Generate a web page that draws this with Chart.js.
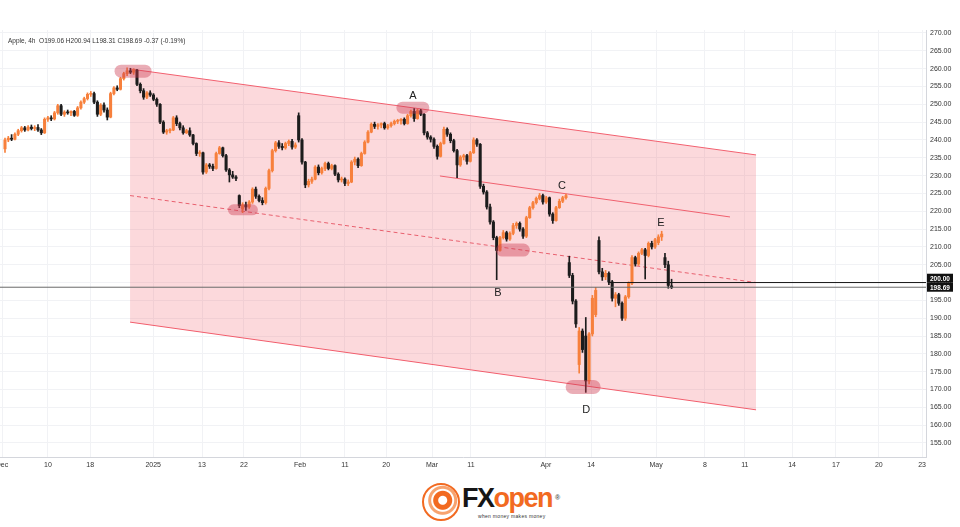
<!DOCTYPE html>
<html>
<head>
<meta charset="utf-8">
<title>Apple 4h</title>
<script src="https://cdn.jsdelivr.net/npm/chart.js@4.4.1/dist/chart.umd.min.js"></script>
<style>
  html, body { margin: 0; padding: 0; background: #fff; }
  body { width: 960px; height: 527px; position: relative; overflow: hidden; font-family: "Liberation Sans", Arial, sans-serif; }
  #wrap { position: absolute; left: 0; top: 30px; width: 960px; height: 448px; }
  #legend { position: absolute; left: 8px; top: 37px; font-size: 6.5px; color: #333; white-space: pre; }
  #logo-icon { position: absolute; left: 422px; top: 483px; width: 34px; height: 34px; border: 2px solid #f26a21; border-radius: 50%;
    background: radial-gradient(circle at 55% 45%, #fff 0 4px, #f26a21 5px 9px, #fff 10px 11px, #f7a36f 12px 14px, #fff 15px); }
  #brand { position: absolute; left: 462px; top: 483px; font-size: 27px; font-weight: 900; letter-spacing: -1.5px; line-height: 30px; }
  #brand .fx { color: #161616; }
  #brand .op { color: #f26a21; }
  #brand sup { font-size: 7px; color: #555; letter-spacing: 0; vertical-align: top; position: relative; top: 0; left: 3px; }
  #tag { position: absolute; left: 478px; top: 513px; font-size: 5px; color: #333; letter-spacing: 0.3px; }
</style>
</head>
<body>
<div id="wrap"><canvas id="chart" width="960" height="448"></canvas></div>
<div id="legend">Apple, 4h  O199.06 H200.94 L198.31 C198.69 -0.37 (-0.19%)</div>
<div id="logo-icon"></div>
<div id="brand"><span class="fx">FX</span><span class="op">open</span><sup>®</sup></div>
<div id="tag">when money   makes money</div>
<script>
// candles, one per 4h bar (index = bar number)
const opens = [237.5,240.0,240.5,240.2,241.6,242.6,243.4,242.8,243.6,243.2,243.5,242.8,242.0,245.8,246.2,245.9,247.6,249.6,247.2,247.8,
  247.6,248.0,246.9,249.0,250.6,251.6,252.8,253.0,250.6,247.2,249.8,248.4,246.4,253.0,254.6,254.2,257.2,258.6,259.4,259.0,
  259.6,255.6,253.8,252.0,253.2,252.6,251.4,250.0,245.0,242.2,242.6,242.8,246.2,244.6,243.4,242.0,242.6,241.4,239.0,236.2,
  236.4,231.0,233.0,232.6,232.0,236.2,237.8,235.6,231.6,230.2,229.6,224.4,220.6,221.8,221.2,222.6,226.2,224.2,223.0,222.4,
  226.4,231.4,237.0,239.2,238.2,237.8,239.0,239.6,238.0,246.8,240.0,233.8,227.4,228.4,229.0,232.4,230.8,232.0,233.4,232.0,
  232.8,230.4,228.8,229.0,227.8,228.2,233.8,234.6,232.8,236.2,239.4,242.2,244.4,243.8,244.2,244.6,243.4,244.0,244.6,245.2,
  245.4,245.8,244.6,246.8,248.0,246.0,248.2,247.2,242.0,240.8,240.2,238.2,235.4,239.0,243.0,241.6,239.8,237.0,233.0,235.2,
  235.6,234.0,236.4,240.0,238.8,227.0,225.4,221.2,217.0,212.6,209.0,212.6,214.0,212.2,213.8,216.0,216.6,215.0,213.0,218.2,
  221.0,222.4,223.6,224.4,222.6,223.8,219.2,217.4,221.0,222.8,223.8,205.6,202.0,194.8,177.0,186.4,185.0,172.4,185.6,191.0,
  211.8,203.0,201.6,202.6,200.2,195.6,196.6,194.2,190.0,196.0,199.8,207.0,205.2,208.2,209.2,207.6,211.0,210.0,211.2,212.8,
  207.0,205.0,199.06];
const highs = [240.5,241.0,241.5,242.0,243.0,243.8,243.8,244.0,244.2,244.0,244.3,243.2,246.2,246.6,246.8,248.0,250.0,250.0,248.2,248.4,
  248.2,248.3,249.4,251.0,252.0,253.2,253.6,253.4,251.0,250.2,250.4,249.0,253.4,255.0,255.2,257.6,259.0,260.2,260.1,260.0,
  259.8,256.0,254.4,253.6,253.8,253.0,251.8,250.2,245.4,243.0,243.2,246.6,246.8,245.0,244.0,243.0,243.4,241.6,239.2,237.0,
  236.6,233.4,233.4,233.2,236.6,238.2,238.0,236.0,232.0,231.2,230.0,224.6,222.4,222.6,223.0,226.6,226.8,224.6,223.8,226.8,
  231.8,237.4,239.6,239.8,239.0,239.4,240.0,240.2,239.2,247.6,240.4,234.0,229.0,229.6,232.8,233.0,232.4,233.8,233.8,233.2,
  233.0,230.8,229.6,229.4,228.8,234.2,235.2,235.0,236.6,239.8,242.6,244.8,245.0,244.6,244.8,245.0,244.4,245.0,245.6,245.8,
  246.0,246.2,247.2,248.4,248.8,248.6,248.6,247.4,242.4,241.2,240.6,238.6,239.4,243.6,243.4,242.0,240.2,237.4,235.6,236.0,
  236.0,236.8,240.6,240.4,239.0,227.6,225.8,222.0,217.4,213.0,213.0,214.6,214.4,214.2,216.6,217.0,217.0,215.4,218.6,221.4,
  222.8,224.0,225.0,224.8,224.2,224.0,219.6,221.4,223.4,224.2,224.8,207.4,202.6,195.2,187.4,187.0,190.2,186.0,196.4,198.6,
  212.8,204.0,203.4,203.0,200.6,197.2,197.0,194.6,196.4,200.2,207.6,207.4,208.6,209.6,209.6,211.4,211.6,212.4,213.4,214.4,
  208.2,206.0,200.94];
const lows = [236.5,239.5,239.8,240.0,241.2,242.2,242.4,242.5,242.8,242.6,242.4,241.5,241.8,245.2,245.4,245.6,247.2,246.8,246.6,247.2,
  246.8,246.6,246.6,248.6,250.2,251.2,252.2,250.2,246.6,246.8,247.8,245.6,246.2,252.6,253.8,254.0,256.8,258.0,258.6,258.4,
  255.2,253.2,251.4,251.6,252.2,251.0,249.4,244.6,241.8,241.6,242.0,242.6,244.0,242.8,241.6,241.8,241.0,238.6,235.6,235.4,
  230.4,230.6,232.0,231.4,231.8,236.0,235.2,231.2,228.2,229.2,228.6,221.0,219.6,220.2,220.8,222.2,223.6,222.6,221.8,222.0,
  226.0,231.0,236.6,237.6,237.2,237.4,238.4,237.4,237.6,239.4,233.2,226.6,226.8,227.8,228.8,230.2,230.4,231.4,231.6,231.6,
  230.0,228.2,228.2,227.2,227.2,228.0,233.0,232.2,232.6,236.0,239.2,242.0,243.2,243.0,243.4,243.0,243.0,243.6,244.2,244.6,
  244.4,244.2,244.4,246.4,245.2,245.8,246.8,241.4,240.2,239.4,237.6,234.6,235.2,238.8,241.0,239.2,236.6,229.4,232.6,234.4,
  233.2,233.8,236.2,238.2,226.4,224.8,220.6,216.4,212.0,200.8,208.8,212.2,211.6,211.8,213.4,215.2,214.4,212.4,212.6,218.0,
  220.6,222.0,223.2,222.0,222.2,218.6,216.6,217.2,220.8,222.4,223.4,201.4,194.0,187.4,174.6,180.4,169.2,171.6,185.0,190.4,
  202.4,200.6,200.8,199.4,194.8,193.2,193.6,189.4,189.4,195.6,199.4,204.6,204.8,207.8,201.0,207.2,209.4,209.6,210.6,211.8,
  204.2,198.4,198.31];
const closes = [240.0,240.5,240.2,241.6,242.6,243.4,242.8,243.6,243.2,243.5,242.8,242.0,245.8,246.2,245.9,247.6,249.6,247.2,247.8,247.6,
  248.0,246.9,249.0,250.6,251.6,252.8,253.0,250.6,247.2,249.8,248.4,246.4,253.0,254.6,254.2,257.2,258.6,259.4,259.0,259.6,
  255.6,253.8,252.0,253.2,252.6,251.4,250.0,245.0,242.2,242.6,242.8,246.2,244.6,243.4,242.0,242.6,241.4,239.0,236.2,236.4,
  231.0,233.0,232.6,232.0,236.2,237.8,235.6,231.6,230.2,229.6,229.2,221.6,221.8,221.2,222.6,226.2,224.2,223.0,222.4,226.4,
  231.4,237.0,239.2,238.2,237.8,239.0,239.6,238.0,238.6,240.0,233.8,227.4,228.4,229.0,232.4,230.8,232.0,233.4,232.0,232.8,
  230.4,228.8,229.0,227.8,228.2,233.8,234.6,232.8,236.2,239.4,242.2,244.4,243.8,244.2,244.6,243.4,244.0,244.6,245.2,245.4,
  245.8,244.6,246.8,248.0,246.0,248.2,247.2,242.0,240.8,240.2,238.2,235.4,239.0,243.0,241.6,239.8,237.0,233.0,235.2,235.6,
  234.0,236.4,240.0,238.8,227.0,225.4,221.2,217.0,212.6,209.0,212.6,214.0,212.2,213.8,216.0,216.6,215.0,213.0,218.2,221.0,
  222.4,223.6,224.4,222.6,223.8,219.2,217.4,221.0,222.8,223.8,224.4,202.0,194.8,188.4,186.4,181.2,172.4,185.6,195.6,197.8,
  203.0,201.6,202.6,200.2,195.6,196.6,194.2,190.0,196.0,199.8,207.0,205.2,208.2,209.2,207.6,211.0,210.0,212.0,212.8,213.6,
  205.0,199.2,198.69];

// x tick marks (bar index) and their labels
const tickPos = [-0.9, 13.0, 25.8, 44.9, 59.7, 72.4, 89.4, 103.0, 115.5, 129.4, 141.2, 163.9, 177.6, 197.3, 212.1, 224.2, 238.5, 251.8, 264.8, 277.9];
const tickText = ['Dec', '10', '18', '2025', '13', '22', 'Feb', '11', '20', 'Mar', '11', 'Apr', '14', 'May', '8', '11', '14', '17', '20', '23'];
const priceTicks = [155, 160, 165, 170, 175, 180, 185, 190, 195, 200, 205, 210, 215, 220, 225, 230, 235, 240, 245, 250, 255, 260, 265, 270];

// drawn channel: [start, end] in bar index / price
const channelX = [37.9, 227.6];
const upperY = [259.9, 235.8];
const lowerY = [188.9, 164.3];
const middleY = [224.4, 200.0];
const lineCX = [131.8, 219.7];
const lineCY = [229.9, 218.4];
const level200X = [182.7, 279.1];
const lastPrice = 198.69;
const level200 = 200.0;

// swing highlights and letters
const markX = [38.8, 72.1, 123.6, 153.9, 175.2];
const markY = [259.3, 220.4, 249.0, 209.1, 170.7];
const letterText = ['A', 'B', 'C', 'D', 'E'];
const letterX = [123.6, 149.4, 168.8, 176.1, 198.8];
const letterY = [252.3, 197.1, 227.1, 164.3, 216.7];

const xMin = -1.515, xMax = 279.1;
const yMin = 151.07, yMax = 270.84;
const upColor = '#f7803c', downColor = '#1c1c1c';

function candleColor(ctx) {
    const i = ctx.dataIndex;
    return closes[i] >= opens[i] ? upColor : downColor;
}

const wickData = opens.map((o, i) => ({ x: i, y: [lows[i], highs[i]] }));
const bodyData = opens.map((o, i) => ({ x: i, y: [o, closes[i]] }));

function seg(xs, ys) {
    return [{ x: xs[0], y: ys[0] }, { x: xs[1], y: ys[1] }];
}

const marksPlugin = {
    id: 'marks',
    afterDatasetsDraw(chart) {
        const { ctx, scales: { x, y } } = chart;
        ctx.save();
        ctx.fillStyle = 'rgba(205, 60, 82, 0.42)';
        const sizes = [[37, 13], [30, 11], [33, 12], [34, 13], [35, 14]];
        markX.forEach((v, i) => {
            const cx = x.getPixelForValue(v), cy = y.getPixelForValue(markY[i]);
            const w = sizes[i][0], h = sizes[i][1];
            ctx.beginPath();
            ctx.roundRect(cx - w / 2, cy - h / 2, w, h, h / 2);
            ctx.fill();
        });
        ctx.fillStyle = '#222';
        ctx.font = '11px "Liberation Sans", Arial, sans-serif';
        ctx.textAlign = 'center';
        ctx.textBaseline = 'middle';
        letterText.forEach((t, i) => {
            ctx.fillText(t, x.getPixelForValue(letterX[i]), y.getPixelForValue(letterY[i]));
        });
        ctx.restore();
    },
    afterDraw(chart) {
        const { ctx, scales: { y }, chartArea } = chart;
        ctx.save();
        const left = chartArea.right + 1, w = 26, h = 9;
        const yLast = y.getPixelForValue(lastPrice);
        const boxes = [[level200, yLast - h - h / 2], [lastPrice, yLast - h / 2]];
        ctx.font = 'bold 6.5px "Liberation Sans", Arial, sans-serif';
        ctx.textAlign = 'left';
        ctx.textBaseline = 'middle';
        boxes.forEach(b => {
            ctx.fillStyle = '#111';
            ctx.fillRect(left, b[1], w, h);
            ctx.fillStyle = '#fff';
            ctx.fillText(b[0].toFixed(2), left + 3, b[1] + h / 2 + 0.5);
        });
        ctx.restore();
    }
};

const lineBase = { type: 'line', pointRadius: 0, borderWidth: 1, fill: false, tension: 0 };

new Chart(document.getElementById('chart').getContext('2d'), {
    type: 'bar',
    data: {
        datasets: [
            Object.assign({}, lineBase, { data: seg(channelX, upperY), borderColor: '#f2606f', fill: '+1', backgroundColor: 'rgba(242, 80, 96, 0.22)', order: 10 }),
            Object.assign({}, lineBase, { data: seg(channelX, lowerY), borderColor: '#f2606f', order: 10 }),
            Object.assign({}, lineBase, { data: seg(channelX, middleY), borderColor: '#e8606e', borderDash: [4, 3], order: 9 }),
            Object.assign({}, lineBase, { data: seg(lineCX, lineCY), borderColor: '#f0606e', order: 9 }),
            { type: 'bar', data: wickData, backgroundColor: candleColor, barThickness: 1, grouped: false, order: 3 },
            { type: 'bar', data: bodyData, backgroundColor: candleColor, barThickness: 2.4, minBarLength: 1, grouped: false, order: 2 },
            Object.assign({}, lineBase, { data: seg([xMin, xMax], [lastPrice, lastPrice]), borderColor: '#6a6a6a', order: 1 }),
            Object.assign({}, lineBase, { data: seg(level200X, [level200, level200]), borderColor: '#151515', order: 0 })
        ]
    },
    options: {
        responsive: false,
        animation: false,
        devicePixelRatio: 1,
        layout: { padding: 0 },
        plugins: { legend: { display: false }, tooltip: { enabled: false } },
        scales: {
            x: {
                type: 'linear', min: xMin, max: xMax, offset: false,
                grid: { color: '#f1f2f5', drawTicks: false, offset: false },
                border: { color: '#d4d6dc' },
                ticks: {
                    autoSkip: false, maxRotation: 0, padding: 4,
                    color: '#333', font: { size: 7, family: '"Liberation Sans", Arial, sans-serif' },
                    callback: (v, i) => tickText[i]
                },
                afterBuildTicks: s => { s.ticks = tickPos.map(v => ({ value: v })); },
                afterFit: s => { s.height = 21; s.paddingLeft = 0; s.paddingRight = 0; }
            },
            y: {
                position: 'right', min: yMin, max: yMax,
                grid: { color: '#f1f2f5', drawTicks: false },
                border: { color: '#d4d6dc' },
                ticks: {
                    padding: 4, color: '#333', font: { size: 7, family: '"Liberation Sans", Arial, sans-serif' },
                    callback: v => v.toFixed(2)
                },
                afterBuildTicks: s => { s.ticks = priceTicks.map(v => ({ value: v })); },
                afterFit: s => { s.width = 34; s.paddingTop = 0; s.paddingBottom = 0; }
            }
        }
    },
    plugins: [marksPlugin]
});
</script>
</body>
</html>
